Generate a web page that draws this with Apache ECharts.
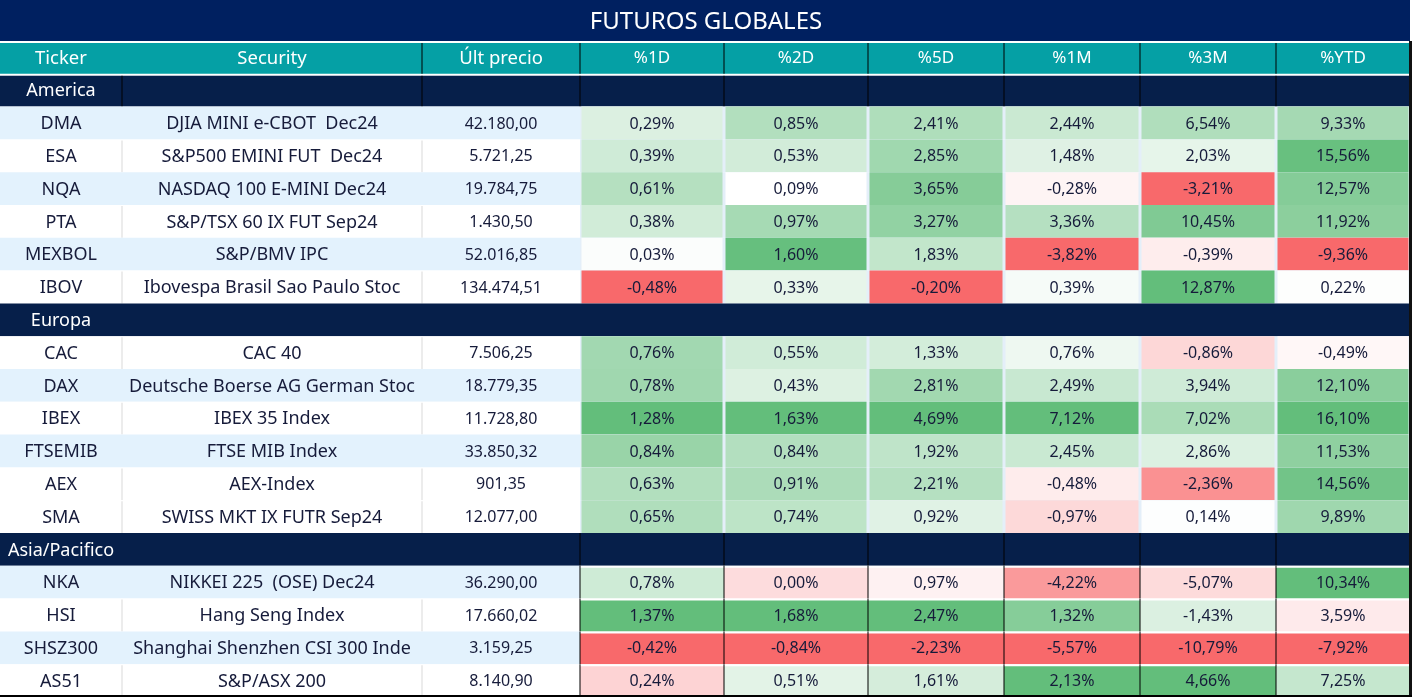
<!DOCTYPE html>
<html><head><meta charset="utf-8">
<script src="https://cdn.jsdelivr.net/npm/echarts@6/dist/echarts.min.js"></script>
<style>html,body{margin:0;padding:0;background:#fff}#chart{width:1412px;height:697px}</style>
</head><body><div id="chart"></div>
<script>
// ---------- data ----------
const tableTitle = 'FUTUROS GLOBALES';
const headers = ['Ticker', 'Security', 'Últ precio', '%1D', '%2D', '%5D', '%1M', '%3M', '%YTD'];
const sectionNames = ['America', 'Europa', 'Asia/Pacifico'];
const sectionSizes = [6, 6, 4];
const tickers = ['DMA', 'ESA', 'NQA', 'PTA', 'MEXBOL', 'IBOV', 'CAC', 'DAX', 'IBEX', 'FTSEMIB', 'AEX', 'SMA', 'NKA', 'HSI', 'SHSZ300', 'AS51'];
const securities = ['DJIA MINI e-CBOT  Dec24', 'S&P500 EMINI FUT  Dec24', 'NASDAQ 100 E-MINI Dec24', 'S&P/TSX 60 IX FUT Sep24', 'S&P/BMV IPC', 'Ibovespa Brasil Sao Paulo Stoc', 'CAC 40', 'Deutsche Boerse AG German Stoc', 'IBEX 35 Index', 'FTSE MIB Index', 'AEX-Index', 'SWISS MKT IX FUTR Sep24', 'NIKKEI 225  (OSE) Dec24', 'Hang Seng Index', 'Shanghai Shenzhen CSI 300 Inde', 'S&P/ASX 200'];
const lastPrice = [42180.00, 5721.25, 19784.75, 1430.50, 52016.85, 134474.51, 7506.25, 18779.35, 11728.80, 33850.32, 901.35, 12077.00, 36290.00, 17660.02, 3159.25, 8140.90];
const chg1D = [0.29, 0.39, 0.61, 0.38, 0.03, -0.48, 0.76, 0.78, 1.28, 0.84, 0.63, 0.65, 0.78, 1.37, -0.42, 0.24];
const chg2D = [0.85, 0.53, 0.09, 0.97, 1.60, 0.33, 0.55, 0.43, 1.63, 0.84, 0.91, 0.74, 0.00, 1.68, -0.84, 0.51];
const chg5D = [2.41, 2.85, 3.65, 3.27, 1.83, -0.20, 1.33, 2.81, 4.69, 1.92, 2.21, 0.92, 0.97, 2.47, -2.23, 1.61];
const chg1M = [2.44, 1.48, -0.28, 3.36, -3.82, 0.39, 0.76, 2.49, 7.12, 2.45, -0.48, -0.97, -4.22, 1.32, -5.57, 2.13];
const chg3M = [6.54, 2.03, -3.21, 10.45, -0.39, 12.87, -0.86, 3.94, 7.02, 2.86, -2.36, 0.14, -5.07, -1.43, -10.79, 4.66];
const chgYTD = [9.33, 15.56, 12.57, 11.92, -9.36, 0.22, -0.49, 12.10, 16.10, 11.53, 14.56, 9.89, 10.34, 3.59, -7.92, 7.25];

// conditional-format groups: sections sharing one colour scale, and the scale midpoint rule
const scaleGroups = [{ sections: [0, 1], mid: 'zero' }, { sections: [2], mid: 'median' }];

// ---------- layout / style ----------
const W = 1412, H = 697, TITLE_H = 41;
const colEdges = [0, 122, 422, 580, 724, 868, 1004, 1140, 1276, 1410];
const C = {
  title: '#002060', header: '#05A0A5', section: '#061F4A', stripe: '#E3F2FD',
  text: '#161B3A', gap: '#E4EFF9', divider: '#D9D9D9',
  red: '#F8696B', mid: '#FFFFFF', green: '#63BE7B'
};
const FONT = '"Noto Sans", "Open Sans", sans-serif';
const stripedRows = [0, 2, 4, 7, 9, 12, 14];
const sectionLinesFrom = [1, 99, 3];
const boxedSections = [2];

// ---------- helpers ----------
const pctCols = [chg1D, chg2D, chg5D, chg1M, chg3M, chgYTD];
function fmtPrice(v) {
  const p = v.toFixed(2).split('.');
  return p[0].replace(/\B(?=(\d{3})+(?!\d))/g, '.') + ',' + p[1];
}
function fmtPct(v) { return v.toFixed(2).replace('.', ',') + '%'; }
function median(a) {
  const s = a.slice().sort((x, y) => x - y); const n = s.length;
  return n % 2 ? s[(n - 1) / 2] : (s[n / 2 - 1] + s[n / 2]) / 2;
}
const sectionStart = sectionSizes.map((_, i) => sectionSizes.slice(0, i).reduce((a, b) => a + b, 0));
function sectionOf(i) { let s = 0; while (s + 1 < sectionSizes.length && i >= sectionStart[s + 1]) s++; return s; }
function scaleColor(v, arr, i) {
  const s = sectionOf(i);
  const g = scaleGroups.find(g => g.sections.includes(s));
  const vals = [];
  g.sections.forEach(sec => { for (let k = 0; k < sectionSizes[sec]; k++) vals.push(arr[sectionStart[sec] + k]); });
  const mn = Math.min(...vals), mx = Math.max(...vals);
  let mid = g.mid === 'zero' ? 0 : median(vals);
  mid = Math.max(mn, Math.min(mx, mid));
  if (v >= mid) {
    const t = mx > mid ? (v - mid) / (mx - mid) : 0;
    return echarts.color.lerp(Math.min(1, t), [C.mid, C.green]);
  }
  const t = mid > mn ? (mid - v) / (mid - mn) : 0;
  return echarts.color.lerp(Math.min(1, t), [C.mid, C.red]);
}

// ---------- build rows and cells ----------
const rows = [{ kind: 'header' }];
sectionNames.forEach((name, s) => {
  rows.push({ kind: 'section', s });
  for (let k = 0; k < sectionSizes[s]; k++) rows.push({ kind: 'data', s, i: sectionStart[s] + k });
});
const cells = [], metas = [];
rows.forEach((row, r) => {
  for (let c = 0; c < headers.length; c++) {
    let m = { kind: row.kind, s: row.s, c };
    if (row.kind === 'header') m.text = headers[c];
    else if (row.kind === 'section') m.text = c === 0 ? sectionNames[row.s] : '';
    else {
      const i = row.i;
      m.striped = stripedRows.includes(i);
      if (c === 0) m.text = tickers[i];
      else if (c === 1) m.text = securities[i];
      else if (c === 2) m.text = fmtPrice(lastPrice[i]);
      else { const arr = pctCols[c - 3]; m.text = fmtPct(arr[i]); m.fill = scaleColor(arr[i], arr, i); }
    }
    cells.push([c, r]); metas.push(m);
  }
});

function txt(text, x, y, size, color) {
  return { type: 'text', z2: 10, style: { text, x, y, font: size + 'px ' + FONT, fill: color,
    align: 'center', verticalAlign: 'middle', textAlign: 'center', textVerticalAlign: 'middle' } };
}
function renderItem(params, api) {
  const c = api.value(0), r = api.value(1), m = metas[params.dataIndex];
  const x0 = api.coord([colEdges[c], r])[0], x1 = api.coord([colEdges[c + 1], r])[0];
  const h = api.size([0, 1])[1], yc = api.coord([0, r])[1], y0 = yc - h / 2;
  const w = x1 - x0, ch = [];
  if (m.kind === 'header') {
    ch.push({ type: 'rect', shape: { x: x0, y: y0 + 2, width: w, height: h - 2 }, style: { fill: C.header } });
    if (c >= 2) ch.push({ type: 'rect', shape: { x: x0 - 0.5, y: y0 + 2, width: 1, height: h - 2 }, style: { fill: '#000' } });
    ch.push(txt(m.text, (x0 + x1) / 2, yc + 1, c < 3 ? 18.5 : 17, '#fff'));
  } else if (m.kind === 'section') {
    const top = m.s === 0 ? 2 : 0;
    ch.push({ type: 'rect', shape: { x: x0, y: y0 + top, width: w, height: h - top }, style: { fill: C.section } });
    if (c >= sectionLinesFrom[m.s]) ch.push({ type: 'rect', shape: { x: x0 - 0.5, y: y0 + top, width: 1, height: h - top }, style: { fill: '#000' } });
    if (m.text) ch.push(txt(m.text, (x0 + x1) / 2, yc + 1, 18, '#fff'));
  } else if (c < 3) {
    ch.push({ type: 'rect', shape: { x: x0, y: y0, width: w, height: h }, style: { fill: m.striped ? C.stripe : '#fff' } });
    if (!m.striped && c > 0) ch.push({ type: 'rect', shape: { x: x0 - 0.5, y: y0 + 1, width: 1, height: h - 1 }, style: { fill: C.divider } });
    ch.push(txt(m.text, (x0 + x1) / 2, yc + 1, c === 2 ? 16 : 18, C.text));
  } else if (boxedSections.includes(m.s)) {
    ch.push({ type: 'rect', shape: { x: x0, y: y0, width: w, height: h }, style: { fill: '#fff' } });
    ch.push({ type: 'rect', shape: { x: x0, y: y0 + 2, width: w, height: h - 2 }, style: { fill: m.fill } });
    ch.push({ type: 'rect', shape: { x: x0 - 0.5, y: y0, width: 1, height: h }, style: { fill: '#000' } });
    ch.push(txt(m.text, (x0 + x1) / 2, yc + 1, 16, C.text));
  } else {
    ch.push({ type: 'rect', shape: { x: x0, y: y0, width: w, height: h }, style: { fill: C.gap } });
    ch.push({ type: 'rect', shape: { x: x0 + 1.5, y: y0, width: w - 3, height: h }, style: { fill: m.fill } });
    ch.push(txt(m.text, (x0 + x1) / 2, yc + 1, 16, C.text));
  }
  return { type: 'group', children: ch };
}

const chart = echarts.init(document.getElementById('chart'), null, { renderer: 'canvas' });
chart.setOption({
  animation: false,
  backgroundColor: '#fff',
  title: { text: tableTitle, left: 'center', top: 5, textStyle: { color: '#fff', fontSize: 24, fontWeight: 'normal', fontFamily: FONT } },
  graphic: [
    { type: 'rect', z: 0, shape: { x: 0, y: 0, width: 1410, height: TITLE_H }, style: { fill: C.title } },
    { type: 'rect', z: 100, shape: { x: 1409, y: TITLE_H, width: 3, height: H - TITLE_H }, style: { fill: '#111' } },
    { type: 'rect', z: 100, shape: { x: 0, y: H - 2, width: W, height: 2 }, style: { fill: '#000' } }
  ],
  grid: { left: 0, right: 0, top: TITLE_H, bottom: 0 },
  xAxis: { type: 'value', min: 0, max: W, show: false },
  yAxis: { type: 'category', data: rows.map((_, i) => i), inverse: true, show: false },
  series: [{ type: 'custom', silent: true, data: cells, renderItem, clip: false }]
});
</script>
</body></html>
